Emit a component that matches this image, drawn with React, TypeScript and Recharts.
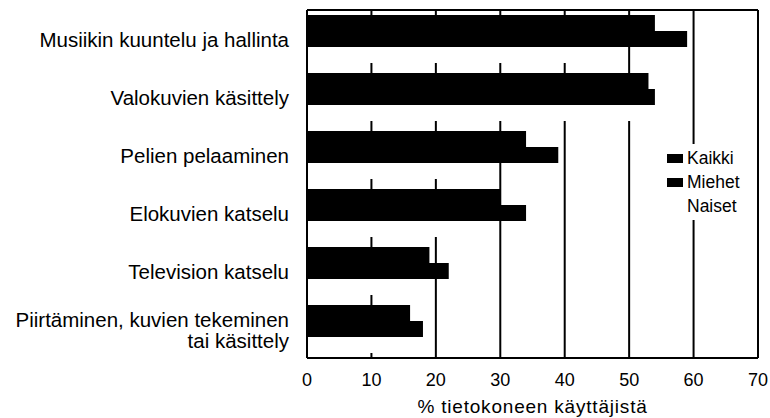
import React from "react";
import { BarChart, Bar, XAxis, YAxis, CartesianGrid } from "recharts";

const categories = [
  "Musiikin kuuntelu ja hallinta",
  "Valokuvien käsittely",
  "Pelien pelaaminen",
  "Elokuvien katselu",
  "Television katselu",
  "Piirtäminen, kuvien tekeminen|tai käsittely",
];
const kaikki = [54, 53, 34, 30, 19, 16];
const miehet = [59, 54, 39, 34, 22, 18];
const naiset = [48, 52, 29, 27, 16, 14];
const xTicks = [0, 10, 20, 30, 40, 50, 60, 70];

const seriesNames = ["Kaikki", "Miehet", "Naiset"];
const seriesColors = ["#000000", "#000000", "#ffffff"];

const data = categories.map((c, i) => ({
  name: c,
  Kaikki: kaikki[i],
  Miehet: miehet[i],
  Naiset: naiset[i],
}));

const FONT = "'Liberation Sans', Arial, sans-serif";

const YTick = (props: any) => {
  const { x, y, payload } = props;
  const lines = String(payload.value).split("|");
  const lh = 21;
  const startY = y - ((lines.length - 1) * lh) / 2;
  return (
    <text
      x={x - 10}
      y={startY}
      textAnchor="end"
      dominantBaseline="central"
      fontFamily={FONT}
      fontSize={20.5}
      fill="#000"
    >
      {lines.map((l, i) => (
        <tspan key={i} x={x - 10} y={startY + i * lh} dominantBaseline="central">
          {l}
        </tspan>
      ))}
    </text>
  );
};

const LegendBox = () => (
  <div
    style={{
      position: "absolute",
      left: 660,
      top: 144,
      width: 84,
      background: "#fff",
      padding: "2px 0 2px 7px",
      fontFamily: FONT,
      fontSize: 17.5,
      color: "#000",
      boxSizing: "border-box",
    }}
  >
    {seriesNames.map((n, i) => (
      <div key={n} style={{ display: "flex", alignItems: "center", height: 24 }}>
        <span
          style={{
            display: "inline-block",
            width: 16,
            height: 9,
            background: seriesColors[i],
            marginRight: 4,
          }}
        />
        <span>{n}</span>
      </div>
    ))}
  </div>
);

export default function App() {
  return (
    <div style={{ position: "absolute", left: 0, top: 0, width: 770, height: 418, background: "#fff" }}>
      <BarChart
        width={770}
        height={418}
        data={data}
        layout="vertical"
        margin={{ top: 10, right: 12, bottom: 0, left: 0 }}
        barCategoryGap={5}
        barGap={0}
      >
        <CartesianGrid
          stroke="#000"
          strokeWidth={2}
          vertical={true}
          horizontal={true}
          horizontalCoordinatesGenerator={(p: any) => [
            p.offset.top,
            p.offset.top + p.offset.height,
          ]}
        />
        <XAxis
          type="number"
          domain={[0, 70]}
          ticks={xTicks}
          tickLine={false}
          axisLine={{ stroke: "#000", strokeWidth: 2 }}
          tick={{ fill: "#000", fontSize: 18, fontFamily: FONT }}
          tickMargin={9}
          height={60}
          label={{
            value: "% tietokoneen käyttäjistä",
            position: "insideBottom",
            offset: 5,
            fill: "#000",
            fontSize: 19,
            fontFamily: FONT,
            letterSpacing: 0.8,
          }}
        />
        <YAxis
          type="category"
          dataKey="name"
          width={307}
          tickLine={false}
          axisLine={{ stroke: "#000", strokeWidth: 2 }}
          tick={<YTick />}
          interval={0}
        />
        {seriesNames.map((n, i) => (
          <Bar key={n} dataKey={n} fill={seriesColors[i]} isAnimationActive={false} />
        ))}
      </BarChart>
      <LegendBox />
    </div>
  );
}
